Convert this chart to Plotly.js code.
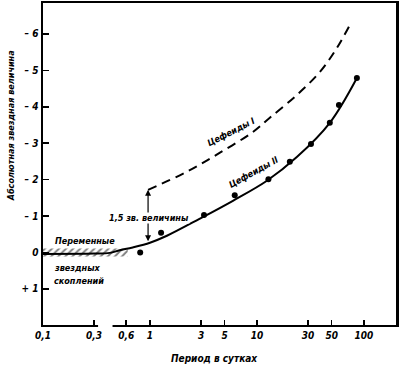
<!DOCTYPE html>
<html>
<head>
<meta charset="utf-8">
<script src="https://cdn.plot.ly/plotly-3.0.1.min.js"></script>
<style>
html,body{margin:0;padding:0;background:#fff;}
#chart{width:402px;height:370px;}
</style>
</head>
<body>
<div id="chart"></div>
<script>
// Period (days) and absolute magnitude of observed Cepheids (type II, dots)
const dotPeriod = [0.81, 1.27, 3.2, 6.2, 12.8, 20.3, 32, 48, 58.4, 86];
const dotMag    = [0.0, -0.54, -1.03, -1.57, -2.01, -2.49, -2.98, -3.56, -4.05, -4.79];

// Cepheids II relation (solid curve)
const cep2Period = [0.1, 0.3, 0.42, 0.52, 0.69, 1.0, 1.44, 2.93, 5.96, 12.4, 23.6, 48, 86];
const cep2Mag    = [0.04, 0.03, 0.01, -0.06, -0.14, -0.27, -0.46, -0.93, -1.42, -1.97, -2.62, -3.56, -4.79];

// Cepheids I relation (dashed curve)
const cep1Period = [0.96, 2.22, 4.51, 9.18, 13.2, 23.7, 38.8, 56, 74];
const cep1Mag    = [-1.72, -2.22, -2.74, -3.31, -3.70, -4.33, -4.96, -5.62, -6.25];

// Cluster variables band (hatched)
const clusterPeriod = [0.1, 0.62, 0.62, 0.1, 0.1];
const clusterMag    = [-0.11, -0.11, 0.11, 0.11, -0.11];

// Ticks
const xTickVals = [0.1, 0.3, 0.6, 1, 3, 5, 10, 30, 50, 100];
const xTickText = ["0,1", "0,3", "0,6", "1", "3", "5", "10", "30", "50", "100"];
const yTickVals = [-6, -5, -4, -3, -2, -1, 0, 1];
const yTickText = ["– 6", "– 5", "– 4", "– 3", "– 2", "– 1", "0", "+ 1"];

const FONT = "DejaVu Sans Condensed, DejaVu Sans, sans-serif";
const f = (size) => ({family: FONT, size: size, color: "#000", style: "italic", weight: 700});
const L = (v) => Math.log10(v);

const traces = [
  {
    x: clusterPeriod, y: clusterMag, mode: "lines", fill: "toself",
    line: {width: 0, color: "rgba(0,0,0,0)"},
    fillcolor: "rgba(0,0,0,0)",
    fillpattern: {shape: "/", size: 5, solidity: 0.4, fgcolor: "#000", fillmode: "overlay"},
    hoverinfo: "skip", showlegend: false
  },
  {
    x: cep2Period, y: cep2Mag, mode: "lines",
    line: {color: "#000", width: 2, shape: "spline", smoothing: 1},
    showlegend: false
  },
  {
    x: cep1Period, y: cep1Mag, mode: "lines",
    line: {color: "#000", width: 2, dash: "9px,6px", shape: "spline", smoothing: 1},
    showlegend: false
  },
  {
    x: dotPeriod, y: dotMag, mode: "markers",
    marker: {color: "#000", size: 6},
    showlegend: false
  }
];

const layout = {
  width: 402, height: 370,
  margin: {l: 43, r: 6, t: 3, b: 45},
  paper_bgcolor: "#fff", plot_bgcolor: "#fff",
  showlegend: false,
  xaxis: {
    type: "log", range: [-1, 2.30],
    tickvals: xTickVals, ticktext: xTickText,
    ticks: "inside", ticklen: 5, tickwidth: 1.5, tickcolor: "#000",
    showline: true, linewidth: 2, linecolor: "#000", mirror: true,
    showgrid: false, zeroline: false,
    tickfont: f(10)
  },
  yaxis: {
    range: [1.99, -6.85],
    tickvals: yTickVals, ticktext: yTickText,
    ticks: "inside", ticklen: 6, tickwidth: 1.5, tickcolor: "#000",
    showline: true, linewidth: 2.5, linecolor: "#000", mirror: true,
    showgrid: false, zeroline: false,
    tickfont: f(10)
  },
  shapes: [
    {type: "rect", xref: "paper", yref: "paper", x0: 0.156, x1: 0.197, y0: -0.012, y1: 0.012,
     fillcolor: "#fff", line: {width: 0}, layer: "above"}
  ],
  annotations: [
    {x: L(0.96), y: -1.72, ax: L(0.96), ay: -0.27, xref: "x", yref: "y", axref: "x", ayref: "y",
     text: "", showarrow: true, arrowhead: 2, arrowside: "end+start", arrowsize: 1, arrowwidth: 1.2, arrowcolor: "#000"},
    {x: L(0.98), y: -0.95, xref: "x", yref: "y", text: "1,5 зв. величины", showarrow: false,
     bgcolor: "#fff", borderpad: 0, font: f(9)},
    {x: L(0.247), y: -0.32, xref: "x", yref: "y", text: "Переменные", showarrow: false, font: f(9)},
    {x: L(0.208), y: 0.42, xref: "x", yref: "y", text: "звездных", showarrow: false, font: f(9)},
    {x: L(0.217), y: 0.78, xref: "x", yref: "y", text: "скоплений", showarrow: false, font: f(9)},
    {x: L(5.71), y: -3.31, xref: "x", yref: "y", text: "Цефеиды I", showarrow: false, textangle: -27, font: f(9)},
    {x: L(9.37), y: -2.21, xref: "x", yref: "y", text: "Цефеиды II", showarrow: false, textangle: -29, font: f(9)},
    {x: -0.0907, y: 0.62, xref: "paper", yref: "paper", text: "Абсолютная звездная величина",
     showarrow: false, textangle: -90, xanchor: "center", yanchor: "middle", font: f(9)},
    {x: 0.487, y: -0.1025, xref: "paper", yref: "paper", text: "Период в сутках",
     showarrow: false, xanchor: "center", yanchor: "middle", font: f(10)}
  ]
};

Plotly.newPlot("chart", traces, layout, {displayModeBar: false, staticPlot: true});
</script>
</body>
</html>
